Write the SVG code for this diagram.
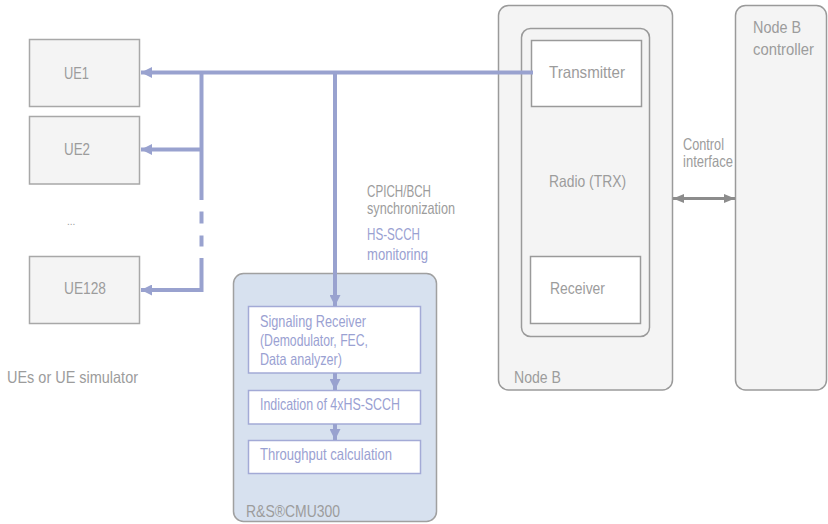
<svg xmlns="http://www.w3.org/2000/svg" width="828" height="524" viewBox="0 0 828 524">
<style>
text{font-family:"Liberation Sans",Arial,sans-serif;font-size:16.5px;fill:#9c9c9c}
.ue{fill:#f4f4f4;stroke:#a8a8a8;stroke-width:1.5}
.nb{fill:#f4f4f4;stroke:#9a9a9a;stroke-width:1.5}
.wb{fill:#ffffff;stroke:#9a9a9a;stroke-width:1.5}
.cmu{fill:#d7e1ef;stroke:#a0a0a0;stroke-width:1.5}
.cb{fill:#ffffff;stroke:#a3aad6;stroke-width:1.5}
.bt{fill:#9aa1d2}
.bl{fill:none;stroke:#99a2cf;stroke-width:4}
.gl{fill:none;stroke:#8c8c8c;stroke-width:3}
</style>
<defs>
<marker id="ab" markerUnits="userSpaceOnUse" markerWidth="11" markerHeight="11" refX="11" refY="5.5" orient="auto"><path d="M0,0 L11,5.5 L0,11 z" fill="#99a2cf"/></marker>
<marker id="ag" markerUnits="userSpaceOnUse" markerWidth="11" markerHeight="9" refX="11" refY="4.5" orient="auto"><path d="M0,0 L11,4.5 L0,9 z" fill="#8c8c8c"/></marker>
<marker id="ags" markerUnits="userSpaceOnUse" markerWidth="11" markerHeight="9" refX="0" refY="4.5" orient="auto"><path d="M11,0 L0,4.5 L11,9 z" fill="#8c8c8c"/></marker>
</defs>

<g id="ue1"><rect class="ue" x="29.5" y="39.5" width="110" height="67"/><text x="64" y="78.5" textLength="25" lengthAdjust="spacingAndGlyphs">UE1</text></g>
<g id="ue2"><rect class="ue" x="29.5" y="116.5" width="110" height="67.5"/><text x="64" y="155" textLength="26" lengthAdjust="spacingAndGlyphs">UE2</text></g>
<g id="dots"><text x="67" y="225" style="font-size:10px">...</text></g>
<g id="ue128"><rect class="ue" x="29.5" y="256.5" width="110" height="67"/><text x="64" y="294" textLength="42" lengthAdjust="spacingAndGlyphs">UE128</text></g>
<g id="ue-label"><text x="7" y="383" textLength="131" lengthAdjust="spacingAndGlyphs">UEs or UE simulator</text></g>

<g id="nodeb">
<rect class="nb" x="498.5" y="5.5" width="174" height="384.5" rx="10"/>
<text x="514" y="383" textLength="47" lengthAdjust="spacingAndGlyphs">Node B</text>
</g>
<g id="radio">
<rect class="nb" x="521.5" y="28.5" width="128" height="308" rx="9"/>
<text x="549" y="187" textLength="77" lengthAdjust="spacingAndGlyphs">Radio (TRX)</text>
</g>
<g id="transmitter"><rect class="wb" x="531.5" y="40.5" width="110" height="66"/><text x="549" y="77.5" textLength="76" lengthAdjust="spacingAndGlyphs">Transmitter</text></g>
<g id="receiver"><rect class="wb" x="530.5" y="256.5" width="110" height="67"/><text x="550" y="294" textLength="55" lengthAdjust="spacingAndGlyphs">Receiver</text></g>

<g id="controller">
<rect class="nb" x="735.5" y="5.5" width="91" height="384.5" rx="10"/>
<text x="753" y="33" textLength="48" lengthAdjust="spacingAndGlyphs">Node B</text>
<text x="753" y="55" textLength="61" lengthAdjust="spacingAndGlyphs">controller</text>
</g>

<g id="cmu">
<rect class="cmu" x="233.5" y="273.5" width="203" height="248" rx="10"/>
<text x="246" y="517" textLength="94" lengthAdjust="spacingAndGlyphs">R&amp;S®CMU300</text>
</g>
<g id="sigrx"><rect class="cb" x="248.5" y="306.5" width="172" height="66.5"/>
<text class="bt" x="260" y="327" textLength="106" lengthAdjust="spacingAndGlyphs">Signaling Receiver</text>
<text class="bt" x="260" y="346" textLength="108" lengthAdjust="spacingAndGlyphs">(Demodulator, FEC,</text>
<text class="bt" x="260" y="365" textLength="82" lengthAdjust="spacingAndGlyphs">Data analyzer)</text></g>
<g id="indication"><rect class="cb" x="248.5" y="390.5" width="172" height="33.5"/><text class="bt" x="260" y="410" textLength="140" lengthAdjust="spacingAndGlyphs">Indication of 4xHS-SCCH</text></g>
<g id="throughput"><rect class="cb" x="248.5" y="440.5" width="172" height="33"/><text class="bt" x="260" y="460" textLength="132" lengthAdjust="spacingAndGlyphs">Throughput calculation</text></g>

<g id="labels">
<text x="367" y="197" textLength="64" lengthAdjust="spacingAndGlyphs">CPICH/BCH</text>
<text x="367" y="214" textLength="88" lengthAdjust="spacingAndGlyphs">synchronization</text>
<text class="bt" x="367" y="240" textLength="53" lengthAdjust="spacingAndGlyphs">HS-SCCH</text>
<text class="bt" x="367" y="260" textLength="61" lengthAdjust="spacingAndGlyphs">monitoring</text>
<text x="683" y="150" textLength="41" lengthAdjust="spacingAndGlyphs">Control</text>
<text x="683" y="167" textLength="50" lengthAdjust="spacingAndGlyphs">interface</text>
</g>

<g id="connectors">
<path class="bl" d="M533,72.5 H141" marker-end="url(#ab)"/>
<path class="bl" d="M201.5,72.5 V200"/>
<path class="bl" d="M201.5,211.5 V223.5"/>
<path class="bl" d="M201.5,235.5 V246.5"/>
<path class="bl" d="M201.5,149.5 H141" marker-end="url(#ab)"/>
<path class="bl" d="M201.5,258 V290 H141" marker-end="url(#ab)"/>
<path class="bl" d="M335,72.5 V306" marker-end="url(#ab)"/>
<path class="bl" d="M335,373 V390" marker-end="url(#ab)"/>
<path class="bl" d="M335,424 V440" marker-end="url(#ab)"/>
<path class="gl" d="M673,198.5 H735" marker-start="url(#ags)" marker-end="url(#ag)"/>
</g>
</svg>
